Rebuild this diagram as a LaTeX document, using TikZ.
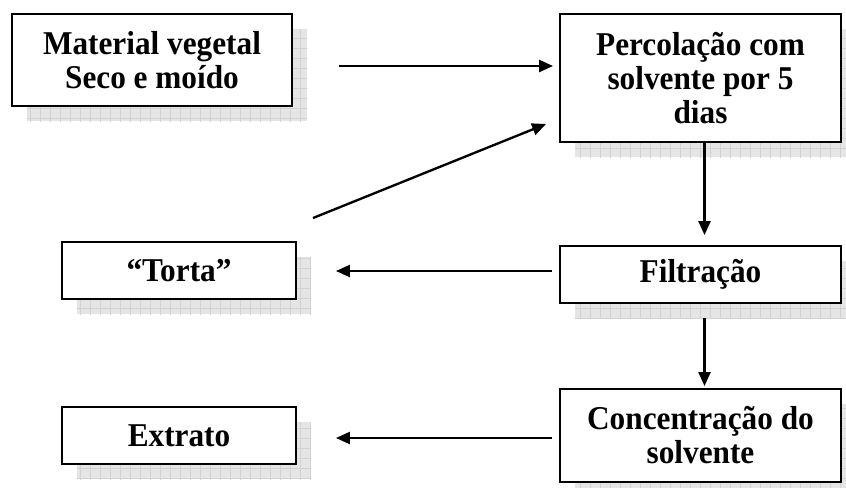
\documentclass[tikz,border=0pt]{standalone}
\usepackage{fontspec}
\setmainfont[FakeStretch=0.94]{Liberation Serif}
\usetikzlibrary{shapes,arrows,arrows.meta,positioning,calc,shadows,patterns.meta}

\tikzset{
  stagebox/.style={draw, line width=1.6pt, fill=white, align=center, inner sep=0pt,
    font=\bfseries\fontsize{28.4}{29}\selectfont,
    drop shadow={fill=gray!20, opacity=1, shadow xshift=0.45cm, shadow yshift=-0.46cm,
      postaction={pattern={Hatch[angle=0,distance=0.3cm,line width=0.5pt]}, pattern color=gray!35}}},
  flow/.style={-{Triangle[length=0.42cm,width=0.36cm]}, line width=2pt}
}

\begin{document}
\begin{tikzpicture}[x=0.03cm, y=-0.03cm]
                \useasboundingbox (0,0) rectangle (846,488);
                \node[stagebox, minimum width=8.4cm, minimum height=2.76cm] (mat) at (152, 60) {Material vegetal\\Seco e moído};
                \node[stagebox, minimum width=8.43cm, minimum height=3.84cm] (perc) at (700.5, 78) {Percolação com\\solvente por 5\\dias};
                \node[stagebox, minimum width=7.02cm, minimum height=1.71cm] (torta) at (179, 270.5) {“Torta”};
                \node[stagebox, minimum width=8.43cm, minimum height=1.71cm] (filt) at (700.5, 274.5) {Filtração};
                \node[stagebox, minimum width=7.02cm, minimum height=1.71cm] (extr) at (179, 435.5) {Extrato};
                \node[stagebox, minimum width=8.43cm, minimum height=2.79cm] (conc) at (700.5, 435.5) {Concentração do\\solvente};

                \draw[flow] ($(mat.east)+(46,6)$) -- ($(perc.west)+(-6,-12)$);
                \draw[flow] ($(torta.north east)+(16,-23)$) -- ($(perc.west)+(-13,46)$);
                \draw[flow] ($(perc.south)+(4,0)$) -- ($(filt.north)+(4,-10)$);
                \draw[flow] ($(filt.west)+(-7,-3.5)$) -- ($(torta.east)+(39,0.5)$);
                \draw[flow] ($(filt.south)+(4,14)$) -- ($(conc.north)+(4,-2)$);
                \draw[flow] ($(conc.west)+(-7,2.5)$) -- ($(extr.east)+(39,2.5)$);
            \end{tikzpicture}
\end{document}
